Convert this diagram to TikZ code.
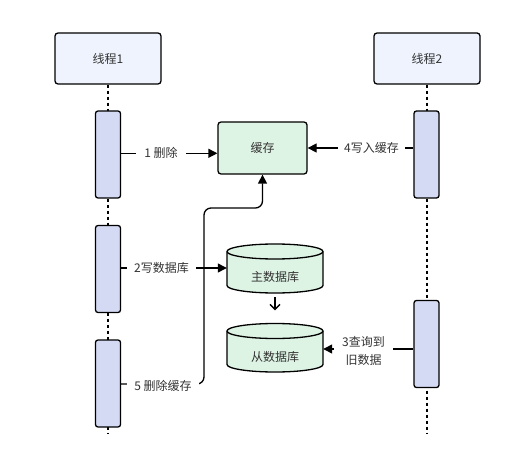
\documentclass[tikz,border=0pt]{standalone}
\usepackage{fontspec}
\setmainfont{Noto Sans CJK SC}
\usetikzlibrary{arrows.meta}
\definecolor{txt}{HTML}{333333}
\definecolor{thfill}{HTML}{EEF3FD}
\definecolor{barfill}{HTML}{D4DAF3}
\definecolor{gfill}{HTML}{DDF3E4}
\tikzset{
  box/.style={draw=black, line width=1.3pt, rounded corners=3pt, inner sep=0pt, text=txt, font=\fontsize{12}{14}\selectfont},
  thread/.style={box, fill=thfill, minimum width=106pt, minimum height=51pt},
  actbar/.style={draw=black, line width=1.3pt, rounded corners=2.5pt, fill=barfill, minimum width=25pt, minimum height=87pt, inner sep=0pt},
  cachebox/.style={box, fill=gfill, minimum width=89pt, minimum height=52pt},
  dbnode/.style={minimum width=96pt, minimum height=49pt, inner sep=0pt},
  dbtext/.style={text=txt, font=\fontsize{12}{14}\selectfont},
  life/.style={line width=1.5pt, dash pattern=on 3pt off 3pt},
  arr/.style={line width=1.3pt, -{Triangle[length=9pt,width=9pt]}},
  lbl/.style={fill=white, text=txt, font=\fontsize{12}{18}\selectfont, inner xsep=5pt, inner ysep=1pt, align=center},
  cyl/.style={draw=black, line width=1.3pt, fill=gfill}
}
\begin{document}
\begin{tikzpicture}[x=1pt,y=-1pt]
\useasboundingbox (0,0) rectangle (522,449);
% threads
\node[thread] (t1) at (108,58.5) {线程1};
\node[thread] (t2) at (427,58.5) {线程2};
\coordinate (e1) at (108,433);
\coordinate (e2) at (427,433);
\draw[life] (t1.south) -- (e1);
\draw[life] (t2.south) -- (e2);
% activation bars
\node[actbar] (b1a) at (108,154.5) {};
\node[actbar] (b1b) at (108,269) {};
\node[actbar] (b1c) at (108,383.5) {};
\node[actbar] (b2a) at (426.5,154.5) {};
\node[actbar] (b2b) at (426.5,344) {};
% cache
\node[cachebox] (cache) at (262.5,148) {缓存};
% databases
\node[dbnode] (master) at (275,268.5) {};
\node[dbnode] (slave) at (275,348) {};
\draw[cyl] (227,251.5) -- (227,285.5) arc[start angle=180,end angle=0,x radius=48,y radius=7.5] -- (323,251.5) arc[start angle=0,end angle=-180,x radius=48,y radius=7.5] -- cycle;
\draw[line width=1.3pt] (227,251.5) arc[start angle=180,end angle=0,x radius=48,y radius=7.5];
\draw[cyl] (227,331) -- (227,364.5) arc[start angle=180,end angle=0,x radius=48,y radius=7.5] -- (323,331) arc[start angle=0,end angle=-180,x radius=48,y radius=7.5] -- cycle;
\draw[line width=1.3pt] (227,331) arc[start angle=180,end angle=0,x radius=48,y radius=7.5];
\node[dbtext] (mtext) at (275,277) {主数据库};
\node[dbtext] (stext) at (275,356.5) {从数据库};
% connectors
\draw[arr] (b1a.east |- 0,153.3) -- (cache.west |- 0,153.3);
\node[lbl, inner xsep=8pt] (l1) at (161,153.3) {1 删除};
\draw[arr] (cache.east -| b2a.west) -- (cache.east);
\node[lbl, inner xsep=6.5pt] (l4) at (371.5,148) {4写入缓存};
\draw[arr] (b1b.east |- 0,268) -- (master.west |- 0,268);
\node[lbl, inner xsep=7pt] (l2) at (161.5,268) {2写数据库};
\draw[arr] (b2b.west |- 0,349) -- (slave.east |- 0,349);
\node[lbl, inner xsep=8pt] (l3) at (363.5,350.5) {3查询到\\旧数据};
\draw[line width=1.3pt, -{Straight Barb[length=5pt,width=10pt]}, shorten <=4pt, shorten >=13pt] (master.south) -- (slave.north);
\draw[arr, rounded corners=7pt] (b1c.east |- 0,384) -| (204,208) -| (cache.south);
\node[lbl, inner xsep=7.5pt] (l5) at (163,385.5) {5 删除缓存};
\end{tikzpicture}
\end{document}
